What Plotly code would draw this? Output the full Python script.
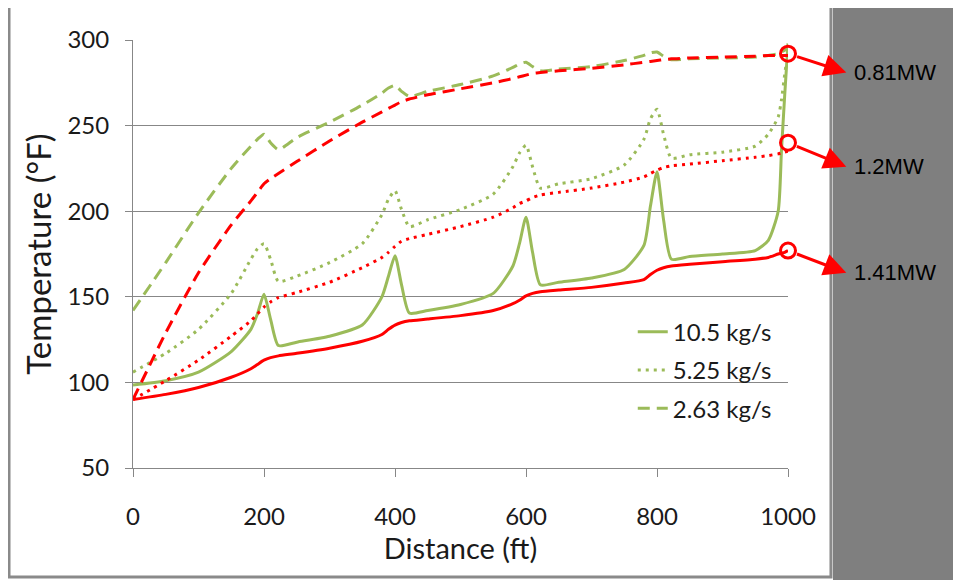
import plotly.graph_objects as go

# ---- data ----
distance = [0, 50, 100, 150, 180, 190, 200, 210, 222, 250,
            300, 350, 380, 390, 400, 410, 422, 450, 500, 550,
            580, 590, 600, 610, 622, 650, 700, 750, 780, 790,
            800, 810, 822, 850, 900, 950, 970, 985, 990, 995, 1000]

green_10_5 = [98.5, 101, 106, 118, 131, 140, 151.5, 137, 121.5, 123.5,
              127, 133.5, 150, 162, 174, 157, 140.5, 142, 145.5, 152,
              168, 181, 196.5, 176, 157, 158.5, 161, 166, 180, 203,
              223, 195, 172, 173.5, 175, 177, 183, 200, 235, 268, 298]

green_5_25 = [106, 117, 131, 152, 172, 178, 181, 172, 159, 162,
              170, 181, 198, 207, 212, 201, 191, 195, 201, 210,
              226, 234, 238.5, 226, 213.5, 216, 219, 227, 242, 254,
              259.5, 245, 231, 233, 234.5, 238, 245, 255, 265, 280, 294]

green_2_63 = [142, 170, 199, 225, 238, 242, 245, 240, 236, 243,
              252, 262, 269, 272, 273.5, 270, 267, 270, 274, 279,
              284, 286, 287, 284.5, 282, 283, 284.5, 288, 291, 292.5,
              293, 290.5, 288.5, 289, 289.5, 290, 291, 292, 293, 294, 296]

red_1_41 = [90, 93, 97, 103, 108, 110.5, 113, 114.5, 115.5, 117,
            120, 124, 128, 131, 133.5, 135, 136, 137, 139, 142,
            146, 148, 150.5, 152, 153, 154, 155.5, 158, 160, 163,
            165.5, 167, 168, 169, 170.5, 172, 173, 175, 175.5, 176, 177]

red_1_2 = [90, 101, 113, 127, 136, 140, 144, 147, 149.5, 152.5,
           158.5, 167, 173, 176, 179.5, 182.5, 184, 186.5, 191, 196.5,
           202, 204.5, 206, 208, 209.5, 211, 213.5, 217, 220, 222,
           224, 225.5, 226.5, 227.5, 229.5, 231.5, 232.5, 233.5, 234, 234.5, 235]

red_0_81 = [90, 129, 164, 192, 206, 211, 216, 219, 222, 229,
            241, 252, 258, 260, 262, 264, 265.5, 268, 271.5, 275,
            277.5, 278.5, 279.5, 280.5, 281, 282, 283.5, 285.5, 287, 287.5,
            288, 288.5, 289, 289.5, 290, 290.5, 291, 291, 291, 291, 291]

legend_names = ["10.5 kg/s", "5.25 kg/s", "2.63 kg/s"]
power_labels = ["0.81MW", "1.2MW", "1.41MW"]
circle_distance = 1000
circle_temps = [292, 240, 177]
label_temps = [281, 226, 164]
arrow_tip_distance = 1089

# ---- styling ----
GREEN = "#9BBB59"
RED = "#FF0000"
GRID = "#878787"
FONT = "Lato"
DOT = "3px,5px"
DASH = "12px,7px"

fig = go.Figure()

green_series = [green_10_5, green_5_25, green_2_63]
red_series = [red_1_41, red_1_2, red_0_81]
dashes = ["solid", DOT, DASH]

for i, (vals, name, dash) in enumerate(zip(green_series, legend_names, dashes)):
    fig.add_trace(go.Scatter(
        x=distance, y=vals, mode="lines", name=name,
        legendgroup=f"g{i}",
        line=dict(color=GREEN, width=3, dash=dash, shape="spline", smoothing=0.6),
    ))

for vals, dash in zip(red_series, dashes):
    fig.add_trace(go.Scatter(
        x=distance, y=vals, mode="lines", showlegend=False,
        line=dict(color=RED, width=3, dash=dash, shape="spline", smoothing=0.6),
    ))

fig.add_trace(go.Scatter(
    x=[circle_distance] * len(circle_temps), y=circle_temps, mode="markers",
    showlegend=False, cliponaxis=False,
    marker=dict(symbol="circle-open", size=15, color=RED, line=dict(width=3, color=RED)),
))

annotations = []
for ct, lt, lab in zip(circle_temps, label_temps, power_labels):
    annotations.append(dict(
        x=arrow_tip_distance, y=lt, xref="x", yref="y",
        ax=circle_distance, ay=ct, axref="x", ayref="y",
        text="", showarrow=True, arrowhead=2, arrowsize=1.5,
        arrowwidth=3, arrowcolor=RED, startstandoff=8,
    ))
    annotations.append(dict(
        x=1.098, y=lt, xref="paper", yref="y", xanchor="left", yanchor="middle",
        text=lab, showarrow=False,
        font=dict(family="Liberation Sans, Arial", size=22, color="#000000"),
    ))

# paper coords: plot spans page px 133..788 horizontally, 40..468 vertically
shapes = [
    dict(type="rect", xref="paper", yref="paper", x0=1.0687, x1=1.32, y0=-0.3, y1=1.2,
         fillcolor="#7f7f7f", line=dict(width=0), layer="below"),
    dict(type="rect", xref="paper", yref="paper", x0=-0.1893, x1=1.0656, y0=-0.2547, y1=1.0794,
         fillcolor="rgba(0,0,0,0)", line=dict(color="#8a8a8a", width=3), layer="below"),
]

# the page body has an 8px default margin, so the margins compensate for it
fig.update_layout(
    width=961, height=580,
    margin=dict(l=125, r=181, t=32, b=120),
    paper_bgcolor="white", plot_bgcolor="white",
    font=dict(family=FONT, color="#1a1a1a"),
    showlegend=True,
    legend=dict(x=0.763, y=0.37, xanchor="left", yanchor="top",
                bgcolor="rgba(0,0,0,0)", font=dict(size=24, family=FONT, color="#1a1a1a"),
                tracegroupgap=4),
    annotations=annotations,
    shapes=shapes,
    xaxis=dict(range=[0, 1000], dtick=200, tick0=0, showgrid=False, zeroline=False,
               showline=True, linecolor=GRID, linewidth=1,
               ticks="outside", ticklen=8, tickcolor=GRID,
               tickfont=dict(size=24, family=FONT), ticklabelstandoff=19,
               title=dict(text="Distance (ft)", font=dict(size=29, family=FONT), standoff=7)),
    yaxis=dict(range=[50, 300], dtick=50, tick0=50, showgrid=True, gridcolor=GRID, gridwidth=1,
               zeroline=False, showline=True, linecolor=GRID, linewidth=1,
               ticks="outside", ticklen=7, tickcolor=GRID,
               tickfont=dict(size=24, family=FONT), ticklabelstandoff=11,
               title=dict(text="Temperature (°F)", font=dict(size=33, family=FONT), standoff=5)),
)

fig.write_html("out.html")
